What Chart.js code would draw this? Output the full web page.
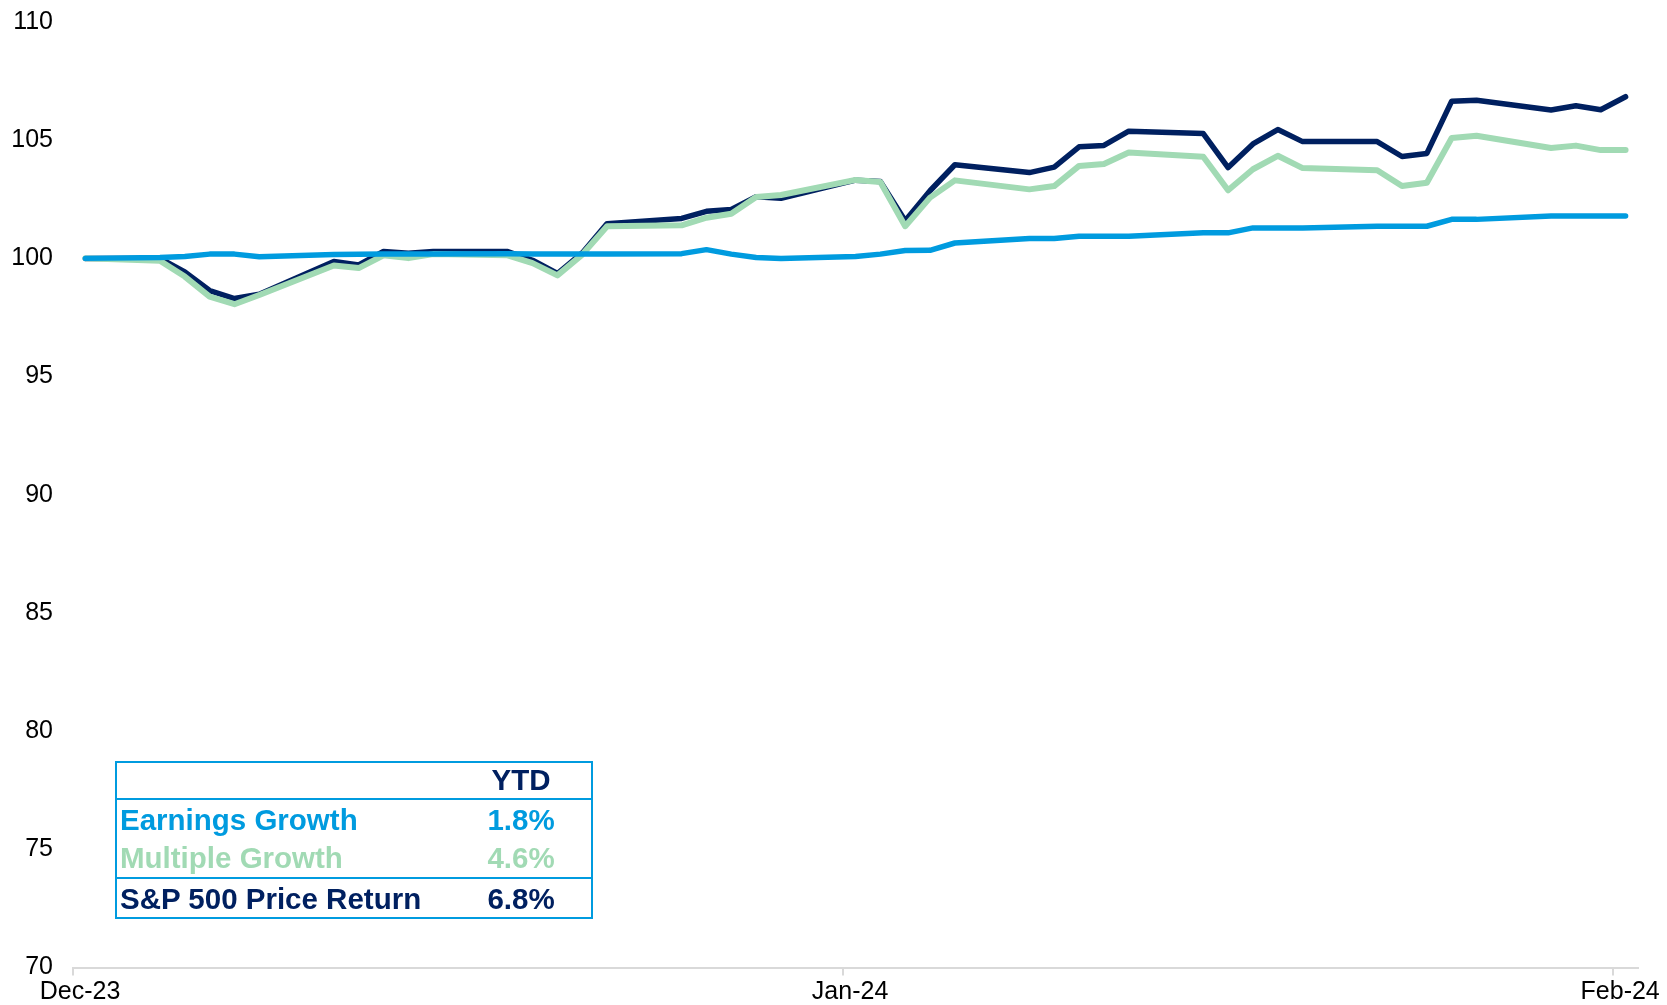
<!DOCTYPE html>
<html>
<head>
<meta charset="utf-8">
<script src="https://cdn.jsdelivr.net/npm/chart.js@4.4.1/dist/chart.umd.min.js"></script>
<style>
  html, body { margin: 0; padding: 0; background: #fff; }
  #wrap { position: relative; width: 1667px; height: 1005px; font-family: 'Liberation Sans', Arial, sans-serif; }
  #box { position: absolute; left: 115px; top: 761px; width: 478px; height: 158px; border: 2px solid #009bdf; box-sizing: border-box; }
  .sep { position: absolute; left: 115px; width: 478px; height: 2px; background: #009bdf; }
  .row { position: absolute; left: 115px; width: 478px; height: 40px; line-height: 40px; font-weight: bold; font-size: 29.5px; }
  .row span { position: absolute; top: 0; white-space: nowrap; }
  .row .lbl { left: 5px; }
  .row .val { left: 335px; width: 142px; text-align: center; }
</style>
</head>
<body>
<div id="wrap">
  <canvas id="growthChart" width="1667" height="1005"></canvas>
  <div id="box"></div>
  <div id="tbl"></div>
</div>
<script>
// trading-day dates (weekdays, holidays carried forward)
const dates = [
  '2023-12-29',
  '2024-01-01', '2024-01-02', '2024-01-03', '2024-01-04', '2024-01-05',
  '2024-01-08', '2024-01-09', '2024-01-10', '2024-01-11', '2024-01-12',
  '2024-01-15', '2024-01-16', '2024-01-17', '2024-01-18', '2024-01-19',
  '2024-01-22', '2024-01-23', '2024-01-24', '2024-01-25', '2024-01-26',
  '2024-01-29', '2024-01-30', '2024-01-31', '2024-02-01', '2024-02-02',
  '2024-02-05', '2024-02-06', '2024-02-07', '2024-02-08', '2024-02-09',
  '2024-02-12', '2024-02-13', '2024-02-14', '2024-02-15', '2024-02-16',
  '2024-02-19', '2024-02-20', '2024-02-21', '2024-02-22', '2024-02-23',
  '2024-02-26', '2024-02-27', '2024-02-28', '2024-02-29'
];

const earningsGrowth = [
  100.00,
  100.04, 100.08, 100.18, 100.18, 100.07,
  100.16, 100.17, 100.18, 100.18, 100.18,
  100.20, 100.19, 100.19, 100.19, 100.19,
  100.20, 100.37, 100.18, 100.04, 99.99,
  100.08, 100.18, 100.33, 100.34, 100.65,
  100.84, 100.84, 100.94, 100.94, 100.94,
  101.08, 101.08, 101.29, 101.29, 101.29,
  101.36, 101.36, 101.36, 101.65, 101.65,
  101.79, 101.79, 101.79, 101.79
];

const multipleGrowth = [
  100.00,
  99.90, 99.23, 98.38, 98.06, 98.45,
  99.70, 99.59, 100.13, 100.01, 100.18,
  100.13, 99.80, 99.28, 100.16, 101.36,
  101.40, 101.72, 101.89, 102.60, 102.68,
  103.32, 103.23, 101.36, 102.57, 103.30,
  102.92, 103.06, 103.91, 103.99, 104.48,
  104.30, 102.88, 103.77, 104.34, 103.82,
  103.73, 103.06, 103.20, 105.09, 105.19,
  104.67, 104.77, 104.58, 104.58
];

const spPriceReturn = [
  100.00,
  100.00, 99.43, 98.64, 98.30, 98.48,
  99.87, 99.72, 100.29, 100.22, 100.29,
  100.29, 99.92, 99.36, 100.23, 101.47,
  101.69, 101.99, 102.07, 102.61, 102.54,
  103.31, 103.25, 101.59, 102.86, 103.96,
  103.63, 103.86, 104.72, 104.78, 105.38,
  105.28, 103.84, 104.84, 105.45, 104.94,
  104.94, 104.31, 104.44, 106.65, 106.69,
  106.28, 106.46, 106.29, 106.84
];

const tickDates = ['2023-12-29', '2024-01-29', '2024-02-29'];
const tickLabels = ['Dec-23', 'Jan-24', 'Feb-24'];
const axisEndDate = '2024-03-01';

// table over the chart
const tableLabels = ['Earnings Growth', 'Multiple Growth', 'S&P 500 Price Return'];
const tableValues = ['1.8%', '4.6%', '6.8%'];
const tableHeader = 'YTD';

const NAVY = '#002060';
const GREEN = '#a1dab4';
const BLUE = '#009bdf';

// days since first date, Excel-style date axis puts the point mid-day
const dayOf = d => (Date.parse(d) - Date.parse(dates[0])) / 864e5;
const toPoints = arr => arr.map((v, i) => ({ x: dayOf(dates[i]) + 0.5, y: v }));

Chart.defaults.font.family = "'Liberation Sans', Arial, sans-serif";
Chart.defaults.font.size = 25;
Chart.defaults.color = '#000';

const ctx = document.getElementById('growthChart').getContext('2d');
const growthChart = new Chart(ctx, {
    type: 'line',
    data: {
        datasets: [
            { label: tableLabels[0], data: toPoints(earningsGrowth), borderColor: BLUE, borderWidth: 5.5 },
            { label: tableLabels[1], data: toPoints(multipleGrowth), borderColor: GREEN, borderWidth: 6 },
            { label: tableLabels[2], data: toPoints(spPriceReturn), borderColor: NAVY, borderWidth: 5.5 }
        ]
    },
    options: {
        responsive: false,
        animation: false,
        devicePixelRatio: 1,
        layout: { padding: { top: 22, right: 29, left: 0, bottom: 0 } },
        elements: {
            point: { radius: 0 },
            line: { tension: 0, borderCapStyle: 'round', borderJoinStyle: 'round' }
        },
        plugins: { legend: { display: false }, tooltip: { enabled: false } },
        scales: {
            x: {
                type: 'linear',
                min: 0,
                max: dayOf(axisEndDate),
                afterBuildTicks: axis => { axis.ticks = tickDates.map(d => ({ value: dayOf(d) })); },
                afterFit: axis => { axis.height = 37.5; axis.paddingLeft = 0; axis.paddingRight = 0; },
                grid: { display: true, drawOnChartArea: false, drawTicks: true, tickLength: 8, color: '#d9d9d9', lineWidth: 2 },
                border: { display: true, color: '#d9d9d9', width: 2 },
                ticks: {
                    autoSkip: false,
                    maxRotation: 0,
                    padding: 2,
                    labelOffset: 7,
                    callback: v => tickLabels[tickDates.findIndex(d => dayOf(d) === v)]
                }
            },
            y: {
                min: 70,
                max: 110,
                afterFit: axis => { axis.width = 73; axis.paddingTop = 0; axis.paddingBottom = 0; },
                grid: { display: false, drawTicks: false },
                border: { display: false },
                ticks: { stepSize: 5, padding: 20 }
            }
        }
    }
});

// overlay table: text rows centred on these y positions, separators below header and above total
const rowCenters = [780, 820, 858, 899];
const sepTops = [798, 877];
const tbl = document.getElementById('tbl');
sepTops.forEach(t => {
    const s = document.createElement('div');
    s.className = 'sep';
    s.style.top = t + 'px';
    tbl.appendChild(s);
});
const rows = [
    { lbl: '', val: tableHeader, color: NAVY },
    { lbl: tableLabels[0], val: tableValues[0], color: BLUE },
    { lbl: tableLabels[1], val: tableValues[1], color: GREEN },
    { lbl: tableLabels[2], val: tableValues[2], color: NAVY }
];
rows.forEach((r, i) => {
    const div = document.createElement('div');
    div.className = 'row';
    div.style.top = (rowCenters[i] - 20) + 'px';
    div.style.color = r.color;
    const l = document.createElement('span');
    l.className = 'lbl';
    l.textContent = r.lbl;
    const v = document.createElement('span');
    v.className = 'val';
    v.textContent = r.val;
    div.appendChild(l);
    div.appendChild(v);
    tbl.appendChild(div);
});
</script>
</body>
</html>
